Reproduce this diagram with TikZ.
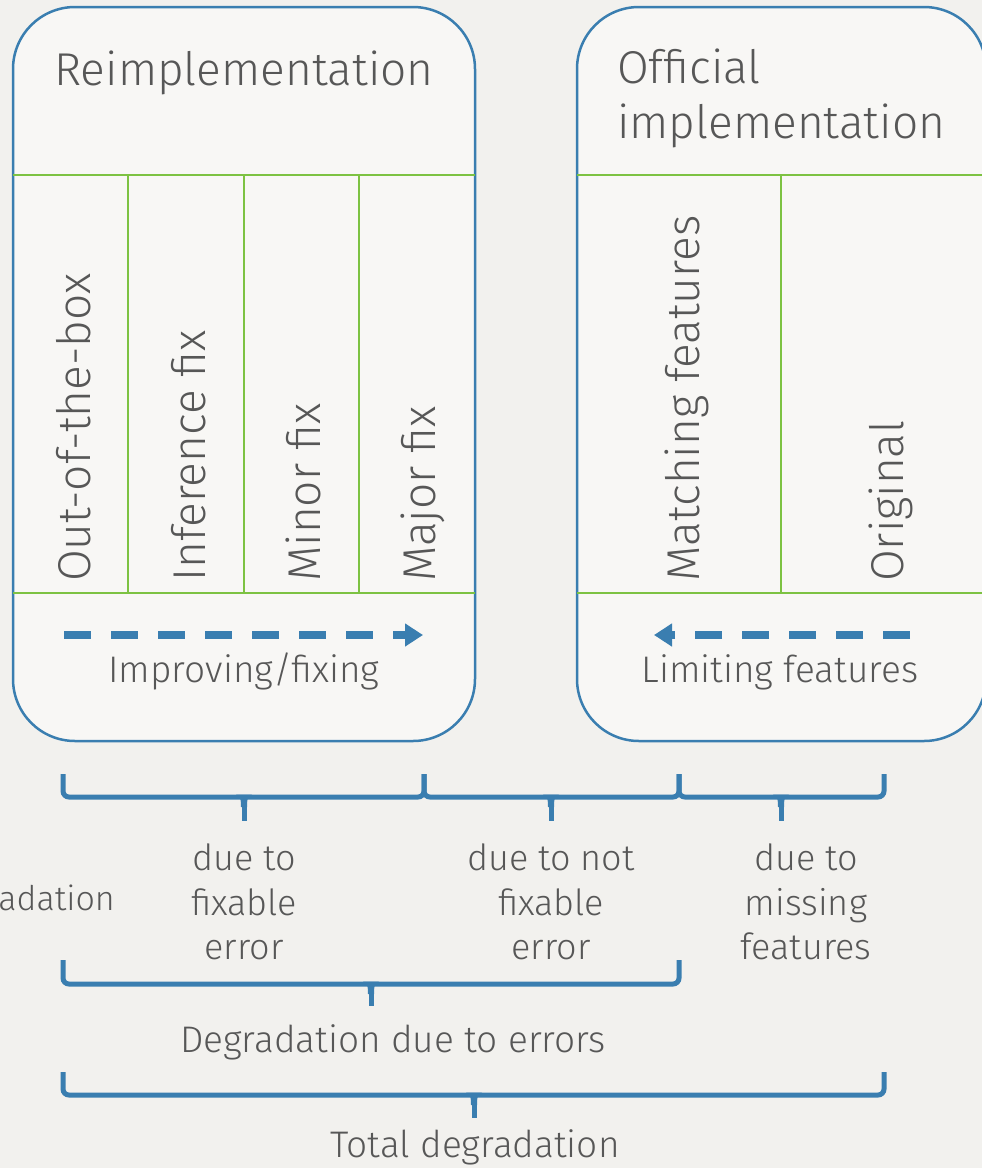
\documentclass[tikz,border=0pt]{standalone}
\usepackage{fontspec}
\setmainfont{Fira Sans Light}
\usetikzlibrary{arrows.meta}
\definecolor{bgc}{HTML}{F2F1EE}
\definecolor{boxfill}{HTML}{F8F7F5}
\definecolor{bl}{HTML}{3A7EB0}
\definecolor{gr}{HTML}{7DC242}
\definecolor{tx}{HTML}{575757}
\newcommand{\mybrace}[6]{%
  \draw[brc, rounded corners=6pt] (#1,#4) -- (#1,#5) -- (#2,#5) -- (#2,#4);
  \draw[brc] (#3,#5) -- (#3,#6);
  \fill[bl] (#3-8,#5-2.5) .. controls (#3-3,#5) and (#3-3,#5+3) .. (#3-3,#5+10)
     -- (#3+3,#5+10) .. controls (#3+3,#5+3) and (#3+3,#5) .. (#3+8,#5-2.5) -- cycle;
}
\begin{document}
\begin{tikzpicture}[x=1pt,y=-1pt,
  box/.style={draw=bl, line width=2.5pt, fill=boxfill, rounded corners=62pt, inner sep=0pt},
  gline/.style={draw=gr, line width=2.5pt},
  vlab/.style={rotate=90, anchor=base west, inner sep=0pt, text=tx, font=\fontsize{46}{46}\selectfont},
  title/.style={inner sep=0pt, text=tx, font=\fontsize{46}{55}\selectfont},
  lab/.style={inner sep=0pt, text=tx, align=center, font=\fontsize{36}{44.5}\selectfont},
  biglab/.style={inner sep=0pt, text=tx, font=\fontsize{37}{40}\selectfont},
  arlab/.style={inner sep=0pt, text=tx, font=\fontsize{37}{40}\selectfont},
  dasharr/.style={draw=bl, line width=8pt, dash pattern=on 27pt off 20pt, -{Triangle[length=18pt,width=22pt]}},
  brc/.style={draw=bl, line width=5pt}]
\useasboundingbox (0,0) rectangle (982,1168);
\fill[bgc] (0,0) rectangle (982,1168);

% boxes
\node[box, minimum width=462pt, minimum height=734pt] (reimp) at (244,374) {};
\node[box, minimum width=409pt, minimum height=734pt] (offic) at (781.5,374) {};

% green grid, left box
\coordinate (lt1) at (13,175); \coordinate (lt2) at (475,175);
\coordinate (lb1) at (13,593); \coordinate (lb2) at (475,593);
\draw[gline] (lt1) -- (lt2);
\draw[gline] (lb1) -- (lb2);
\foreach \xx in {128,244,359} \draw[gline] (\xx,175) -- (\xx,593);
% green grid, right box
\coordinate (rt1) at (577,175); \coordinate (rt2) at (986,175);
\coordinate (rb1) at (577,593); \coordinate (rb2) at (986,593);
\draw[gline] (rt1) -- (rt2);
\draw[gline] (rb1) -- (rb2);
\draw[gline] (781,175) -- (781,593);

% titles
\node[title, anchor=base] (t1) at (244,85) {Reimplementation};
\node[title, anchor=north west, align=left] (t2) at (617,49) {Official\\implementation};

% vertical labels
\node[vlab] (c1) at (90,582) {Out-of-the-box};
\node[vlab] (c2) at (205,582) {Inference fix};
\node[vlab] (c3) at (320,582) {Minor fix};
\node[vlab] (c4) at (435,582) {Major fix};
\node[vlab] (c5) at (699,582) {Matching features};
\node[vlab] (c6) at (903,582) {Original};

% arrows
\coordinate (a1s) at (64,635); \coordinate (a1e) at (423,635);
\coordinate (a2s) at (910,635); \coordinate (a2e) at (654,635);
\draw[dasharr] (a1s) -- (a1e);
\draw[dasharr] (a2s) -- (a2e);
\node[arlab, anchor=base] (l1) at (244,682) {Improving/fixing};
\node[arlab, anchor=base] (l2) at (780,682) {Limiting features};

% braces
\mybrace{63}{424}{244}{774}{797}{821}
\mybrace{424}{679}{551}{774}{797}{821}
\mybrace{679}{884}{781}{774}{797}{821}
\mybrace{63}{679}{371}{960}{984}{1006}
\mybrace{63}{884}{474}{1072}{1095}{1118}

% brace labels
\node[inner sep=0pt, text=tx, font=\fontsize{34}{40}\selectfont, anchor=base east] (d0) at (115,910) {adation};
\node[lab, anchor=north] (d1) at (244,844) {due to\\fixable\\error};
\node[lab, anchor=north] (d2) at (551,844) {due to not\\fixable\\error};
\node[lab, anchor=north] (d3) at (806,844) {due to\\missing\\features};
\node[biglab, anchor=base] (d4) at (393,1052) {Degradation due to errors};
\node[biglab, anchor=base] (d5) at (475,1157) {Total degradation};
\end{tikzpicture}
\end{document}
